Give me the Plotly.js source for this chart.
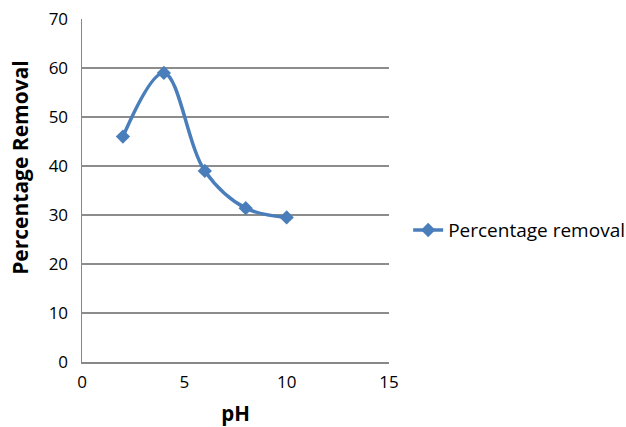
<!DOCTYPE html>
<html>
<head>
<meta charset="utf-8">
<script src="https://cdn.plot.ly/plotly-3.0.1.min.js"></script>
<style>html,body{margin:0;padding:0;background:#fff;}#chart{width:626px;height:427px;}</style>
</head>
<body>
<div id="chart"></div>
<script>
const pH = [2, 4, 6, 8, 10];
const removal = [46, 59, 39, 31.4, 29.5];
const seriesName = 'Percentage removal';
const xTitle = 'pH';
const yTitle = 'Percentage Removal';
const xTicks = [0, 5, 10, 15];
const yTicks = [0, 10, 20, 30, 40, 50, 60, 70];

const trace = {
  x: pH, y: removal, name: seriesName, type: 'scatter', mode: 'lines+markers',
  line: {color: '#4a7ebb', width: 3.5, shape: 'spline', smoothing: 1},
  marker: {symbol: 'diamond', size: 11, color: '#4a7ebb'}
};
const font = 'Open Sans, Liberation Sans, sans-serif';
const layout = {
  width: 626, height: 427,
  margin: {l: 82, r: 237, t: 19, b: 65},
  paper_bgcolor: '#fff', plot_bgcolor: '#fff',
  showlegend: true,
  legend: {xref: 'container', yref: 'container', x: 0.652, y: 0.461, xanchor: 'left', yanchor: 'middle',
           font: {family: font, size: 19, color: '#000'}},
  xaxis: {
    range: [0, 15], tickvals: xTicks, ticktext: xTicks.map(String),
    showgrid: false, zeroline: false, showline: true, linecolor: '#888', linewidth: 1.5,
    ticks: '', ticklabelstandoff: 4, tickfont: {family: font, size: 17, color: '#000'},
    title: {text: '<b>' + xTitle + '</b>', font: {family: font, size: 20.5, color: '#000'}, standoff: 14}
  },
  yaxis: {
    range: [0, 70], tickvals: yTicks, ticktext: yTicks.map(String),
    showgrid: true, gridcolor: '#8c8c8c', gridwidth: 1.5, zeroline: false,
    showline: true, linecolor: '#888', linewidth: 1.5,
    ticks: '', ticklabelstandoff: 9, tickfont: {family: font, size: 17, color: '#000'}
  },
  annotations: [{
    text: '<b>' + yTitle + '</b>', xref: 'paper', yref: 'paper', x: -0.202, y: 0.569,
    xanchor: 'center', yanchor: 'middle', textangle: -90, showarrow: false,
    font: {family: font, size: 21, color: '#000'}
  }]
};
Plotly.newPlot('chart', [trace], layout, {displayModeBar: false, staticPlot: true});
</script>
</body>
</html>
